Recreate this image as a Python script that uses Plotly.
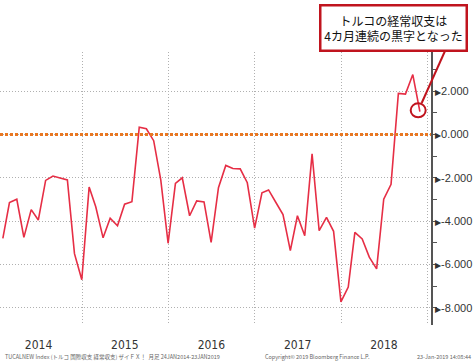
import pandas as pd
import plotly.graph_objects as go

# Turkish current account balance, monthly (USD million), Jan 2014 - Nov 2018
months = pd.date_range("2014-01-31", "2018-11-30", freq="ME")
balance = [
    -4790, -3140, -2990, -4750, -3470, -3950, -2120, -1920, -2010, -2100, -5500, -6700,   # 2014
    -2430, -3340, -4770, -3860, -4210, -3220, -3100, 330, 260, -290, -2100, -5020,         # 2015
    -2260, -2000, -3750, -3070, -3110, -4980, -2460, -1430, -1570, -1590, -2230, -4320,    # 2016
    -2690, -2560, -3140, -3700, -5360, -3750, -4670, -900, -4440, -3830, -4470, -7720,     # 2017
    -7040, -4520, -4820, -5660, -6200, -2990, -2300, 1890, 1860, 2760, 1050,               # 2018
]
year_labels = ["2014", "2015", "2016", "2017", "2018"]
year_mid = ["2014-07-01", "2015-07-01", "2016-07-01", "2017-07-01", "2018-07-01"]
y_ticks = [-8000, -6000, -4000, -2000, 0, 2000]
y_ticktext = ["-8.000", "-6.000", "-4.000", "-2.000", "0.000", "2.000"]

callout = "トルコの経常収支は<br>4カ月連続の黒字となった"
footer_left = "TUCALNEW Index (トルコ 国際収支 経常収支) ザイＦＸ！  月足 24JAN2014-23JAN2019"
footer_mid = "Copyright© 2019 Bloomberg Finance L.P."
footer_right = "23-Jan-2019 14:08:44"

LINE = "#E62E45"
DARKRED = "#C0141E"
GRID = "#B0B0B0"

W_PLOT, H_PLOT, TOP = 431, 273, 52


def px_x(px):
    return px / W_PLOT


def px_y(py):
    return (TOP + H_PLOT - py) / H_PLOT


fig = go.Figure()
fig.add_trace(go.Scatter(x=months, y=balance, mode="lines",
                         line=dict(color=LINE, width=1.6), hoverinfo="skip"))

# zero reference line
fig.add_shape(type="line", xref="paper", x0=0, x1=1, yref="y", y0=0, y1=0,
              line=dict(color="#E87722", width=3, dash="3px,2px"))

# circle around the latest point
fig.add_shape(type="circle", xref="x", yref="y",
              xsizemode="pixel", ysizemode="pixel",
              xanchor=months[-1], yanchor=balance[-1],
              x0=-9.2, x1=5.8, y0=-5.7, y1=8.3,
              line=dict(color=DARKRED, width=2))
# leader line to callout
fig.add_shape(type="line", xref="paper", yref="paper",
              x0=px_x(421.7), y0=px_y(103), x1=px_x(445), y1=px_y(51),
              line=dict(color=DARKRED, width=2))

fig.add_annotation(text=callout, xref="paper", yref="paper",
                   x=px_x(393), y=px_y(27.5), xanchor="center", yanchor="middle",
                   showarrow=False,
                   font=dict(family="Noto Sans CJK JP", size=12, color="#111"),
                   bgcolor="white", bordercolor=DARKRED, borderwidth=2.5,
                   width=144, height=43, borderpad=0, align="center")

foot_font = dict(family="Noto Sans CJK JP", size=5.5, color="#666")
fig.add_annotation(text=footer_left, xref="paper", yref="paper", x=px_x(3), y=px_y(357),
                   xanchor="left", yanchor="middle", showarrow=False, font=foot_font)
fig.add_annotation(text=footer_mid, xref="paper", yref="paper", x=px_x(263), y=px_y(357),
                   xanchor="left", yanchor="middle", showarrow=False, font=foot_font)
fig.add_annotation(text=footer_right, xref="paper", yref="paper", x=px_x(473), y=px_y(357),
                   xanchor="right", yanchor="middle", showarrow=False, font=foot_font)

fig.update_layout(
    width=475, height=363,
    margin=dict(l=0, r=44, t=TOP, b=363 - TOP - H_PLOT),
    paper_bgcolor="white", plot_bgcolor="white",
    showlegend=False,
    xaxis=dict(range=["2014-01-19", "2019-01-16"],
               tickvals=year_mid, ticktext=year_labels,
               showgrid=False, zeroline=False, showline=False,
               ticks="outside", ticklen=9, tickcolor="rgba(0,0,0,0)",
               tickfont=dict(family="Liberation Sans Narrow, DejaVu Sans Condensed", size=12, color="#333"),
               minor=dict(dtick="M12", tick0="2014-01-01", showgrid=True,
                          gridcolor=GRID, griddash="1px,2px", gridwidth=1)),
    yaxis=dict(side="right", range=[-8788, 3799],
               tickvals=y_ticks,
               ticktext=["<span style='font-size:8px'>▶</span>" + t for t in y_ticktext],
               showgrid=True, gridcolor=GRID, griddash="1px,2px", gridwidth=1,
               zeroline=False, showline=True, linecolor="#555", linewidth=1.5,
               ticks="", ticklabelstandoff=0,
               tickfont=dict(family="Liberation Sans, DejaVu Sans", size=11, color="#333"),
               minor=dict(dtick=1000, ticks="outside", ticklen=4, tickcolor="#555", tickwidth=1)),
)

fig.write_html("out.html", config={"displayModeBar": False},
               post_script="document.body.style.margin='0';document.body.style.overflow='hidden';")
